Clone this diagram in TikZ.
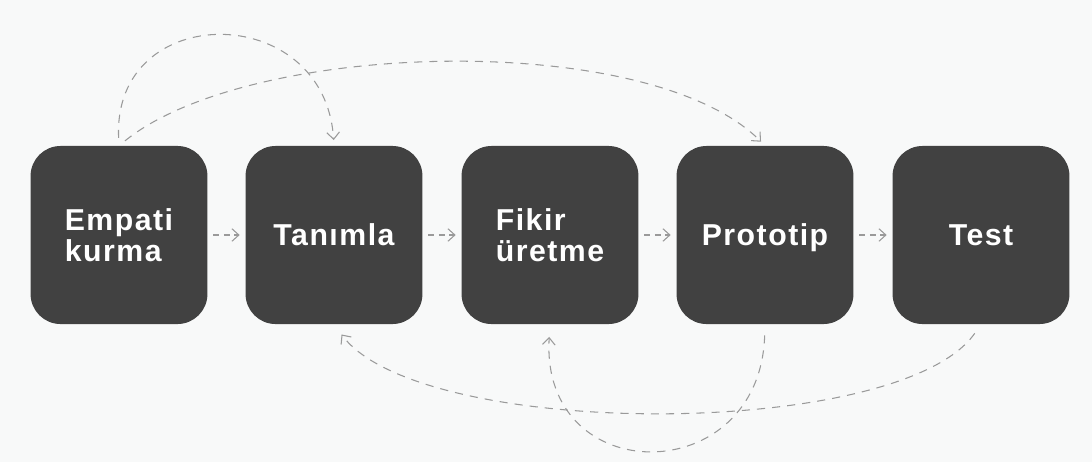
\documentclass[tikz,border=0pt]{standalone}
\usepackage{fontspec}
\newfontfamily\stagefont{Liberation Sans}[LetterSpace=5]
\usepackage{tikz}
\usetikzlibrary{arrows.meta}
\usetikzlibrary{positioning}
\definecolor{bgcol}{HTML}{F8F9F9}
\definecolor{boxcol}{HTML}{414141}
\definecolor{linecol}{HTML}{9A9A9A}
\tikzstyle{stage}=[rectangle, rounded corners=0.75cm, fill=boxcol, draw=none,
  minimum width=4.42cm, minimum height=4.45cm, inner sep=0, align=left,
  text=white, font=\stagefont\bfseries\fontsize{21.5}{22}\selectfont]
\tikzstyle{flow}=[draw=linecol, line width=0.75pt, dash pattern=on 4pt off 3.5pt,
  -{Straight Barb[length=5pt,width=9pt]}]
\tikzstyle{back}=[flow, dash pattern=on 5.8pt off 5pt]

\begin{document}
\begin{tikzpicture}[x=0.025cm, y=-0.025cm]
  \fill[bgcol] (0,0) rectangle (1092,462);
  \path[use as bounding box] (0,0) rectangle (1092,462);
  \node[stage] (emp) at (119,235) {Empati\\kurma};
  \node[stage] (tan) at (334,235) {Tanımla};
  \node[stage] (fik) at (550,235) {Fikir\\üretme};
  \node[stage, text depth=0pt] (pro) at (765,235) {Prototip};
  \node[stage] (tst) at (981,235) {Test};
  \path[flow]
    (emp) edge[shorten <=4pt, shorten >=4pt] (tan)
    (tan) edge[shorten <=4pt, shorten >=4pt] (fik)
    (fik) edge[shorten <=4pt, shorten >=4pt] (pro)
    (pro) edge[shorten <=4pt, shorten >=4pt] (tst);
  % loops back over and under the row
  \draw[back, shorten <=5.5pt, shorten >=4pt]
    (emp.north) .. controls +(-7,-146) and +(-9,-146) .. (tan.north);
  \draw[back, shorten <=5.5pt, shorten >=4pt]
    (emp.north) .. controls +(131,-106) and +(-115,-116) .. (pro.north);
  \draw[back, shorten <=7.8pt, shorten >=9pt]
    (tst.south) .. controls +(-81,116) and +(86,116) .. (tan.south);
  \draw[back, shorten <=7.8pt, shorten >=9pt]
    (pro.south) .. controls +(-5,166) and +(-10,166) .. (fik.south);
\end{tikzpicture}
\end{document}
